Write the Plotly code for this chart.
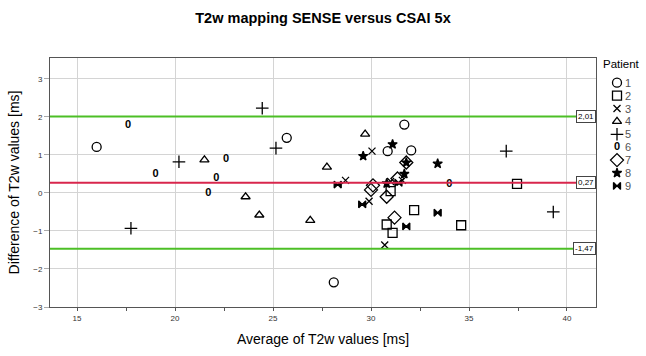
import plotly.graph_objects as go

# ---------------- data ----------------
patients = ["1", "2", "3", "4", "5", "6", "7", "8", "9"]

p1_x = [16.0, 25.7, 28.1, 30.85, 31.7, 32.05]
p1_y = [1.21, 1.45, -2.35, 1.1, 1.8, 1.12]
p2_x = [30.8, 31.1, 31.0, 32.2, 34.6, 37.45]
p2_y = [-0.83, -1.05, 0.05, -0.45, -0.85, 0.24]
p3_x = [28.7, 30.05, 29.9, 30.7, 31.0, 31.6]
p3_y = [0.33, 1.1, -0.22, -1.37, 0.3, 0.33]
p4_x = [21.5, 23.6, 24.3, 26.9, 27.75, 29.7]
p4_y = [0.87, -0.1, -0.58, -0.72, 0.68, 1.55]
p5_x = [17.75, 20.2, 24.45, 25.15, 36.9, 39.3]
p5_y = [-0.93, 0.82, 2.23, 1.18, 1.1, -0.5]
p6_x = [17.6, 19.0, 21.7, 22.1, 22.6, 34.0]
p6_y = [1.78, 0.48, 0.0, 0.39, 0.88, 0.24]
p7_x = [30.0, 30.1, 30.8, 31.2, 31.35, 31.8]
p7_y = [0.08, 0.2, -0.1, -0.65, 0.38, 0.8]
p8_x = [29.6, 31.1, 31.7, 33.4, 31.8, 30.8]
p8_y = [0.97, 1.28, 0.5, 0.77, 0.8, 0.25]
p9_x = [28.3, 29.55, 31.8, 33.4, 31.4]
p9_y = [0.22, -0.3, -0.88, -0.52, 0.27]

bias = 0.27
loa_upper = 2.01
loa_lower = -1.47

x_ticks = [15, 20, 25, 30, 35, 40]
y_ticks = [-3, -2, -1, 0, 1, 2, 3]

xs = [p1_x, p2_x, p3_x, p4_x, p5_x, p6_x, p7_x, p8_x, p9_x]
ys = [p1_y, p2_y, p3_y, p4_y, p5_y, p6_y, p7_y, p8_y, p9_y]

# ---------------- styles ----------------
FONT = "Liberation Sans, Arial, sans-serif"
styles = {
    "1": dict(symbol="circle-open", size=9),
    "2": dict(symbol="square-open", size=9),
    "3": dict(symbol="x-thin-open", size=7),
    "4": dict(symbol="triangle-up-open", size=8),
    "5": dict(symbol="cross-thin-open", size=9),
    "6": None,
    "7": dict(symbol="diamond-open", size=10),
    "8": dict(symbol="star", size=7),
    "9": dict(symbol="bowtie", size=7),
}
ZERO_FONT = dict(family=FONT, size=11, color="black")

fig = go.Figure()

XR = [13.62, 41.48]
YR = [-3.0, 3.55]


def add_points(x, y, st, xa, ya):
    if st is None:
        fig.add_trace(go.Scatter(
            x=x, y=y, mode="text", text=["<b>0</b>"] * len(x),
            textfont=ZERO_FONT, marker=dict(color="black"),
            showlegend=False, xaxis=xa, yaxis=ya, hoverinfo="skip",
        ))
    else:
        fig.add_trace(go.Scatter(
            x=x, y=y, mode="markers", showlegend=False,
            marker=dict(symbol=st["symbol"], size=st["size"], color="black",
                        line=dict(color="black", width=1.3)),
            xaxis=xa, yaxis=ya,
        ))


for name, x, y in zip(patients, xs, ys):
    add_points(x, y, styles[name], "x", "y")

# legend drawn on a small second axis
LEG_MARK_X = 15.7
for i, name in enumerate(patients):
    row = i + 1
    add_points([LEG_MARK_X], [row], styles[name], "x2", "y2")
    fig.add_annotation(x=LEG_MARK_X + 5.5, y=row, xref="x2", yref="y2", text=name,
                       showarrow=False, xanchor="left", yanchor="middle",
                       font=dict(family=FONT, size=11, color="#555"))

fig.add_annotation(x=0.0, y=-0.45, xref="x2", yref="y2", text="Patient",
                   showarrow=False, xanchor="left", yanchor="middle",
                   font=dict(family=FONT, size=11.5, color="black"))

# reference lines
for val, col in [(loa_upper, "#4cbf26"), (bias, "#d8264c"), (loa_lower, "#4cbf26")]:
    fig.add_shape(type="line", xref="x domain", yref="y", x0=0, x1=1, y0=val, y1=val,
                  line=dict(color=col, width=2), layer="above")
    fig.add_annotation(x=XR[1], y=val, xref="x", yref="y",
                       text=f"{val:.2f}".replace(".", ","), showarrow=False,
                       xanchor="right", yanchor="middle",
                       font=dict(family=FONT, size=8, color="black"),
                       bgcolor="white", bordercolor="#444", borderwidth=1, borderpad=1)

fig.update_layout(
    width=646, height=356,
    margin=dict(l=50, r=0, t=58, b=49),
    paper_bgcolor="white", plot_bgcolor="white",
    colorway=["black"],
    font=dict(family=FONT, color="black"),
    title=dict(text="<b>T2w mapping SENSE versus CSAI 5x</b>", x=0.5, xref="container",
               y=1 - 18 / 356, yref="container", xanchor="center", yanchor="middle",
               font=dict(family=FONT, size=14.5, color="black")),
    xaxis=dict(domain=[0, 546 / 596], range=XR, tickvals=x_ticks,
               showgrid=True, gridcolor="#d4d4d4", gridwidth=1,
               zeroline=False, showline=True, linecolor="#555", linewidth=1, mirror=True,
               ticks="outside", ticklen=3, tickcolor="#555",
               minor=dict(dtick=2.5, tick0=15, ticks="outside", ticklen=3, tickcolor="#555", showgrid=False),
               tickfont=dict(family=FONT, size=8, color="#333"),
               title=dict(text="Average of T2w values [ms]", standoff=12,
                          font=dict(family=FONT, size=14, color="black"))),
    yaxis=dict(range=YR, tickvals=y_ticks,
               showgrid=True, gridcolor="#d4d4d4", gridwidth=1,
               zeroline=False, showline=True, linecolor="#555", linewidth=1, mirror=True,
               ticks="outside", ticklen=5, tickcolor="#aaa",
               tickfont=dict(family=FONT, size=8, color="#333"),
               title=dict(text="Difference of T2w values [ms]", standoff=10,
                          font=dict(family=FONT, size=14, color="black"))),
    xaxis2=dict(domain=[0.925, 1.0], range=[0, 44.7], visible=False, fixedrange=True),
    yaxis2=dict(domain=[0, 1], range=[18.39, -0.915], visible=False, fixedrange=True,
                anchor="x2"),
)
for tr in fig.data:
    if tr.xaxis == "x2":
        tr.update(cliponaxis=False)

fig.write_html("out.html")
